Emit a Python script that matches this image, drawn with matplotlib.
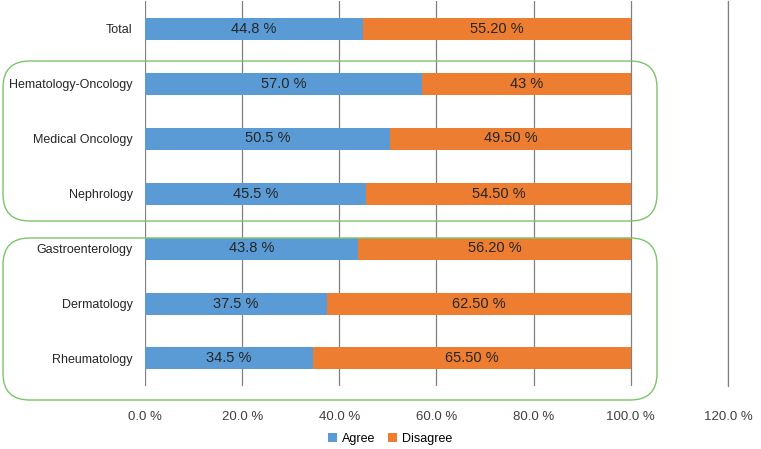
import matplotlib.pyplot as plt
from matplotlib.patches import FancyBboxPatch

plt.rcParams['font.family'] = ['Liberation Sans', 'DejaVu Sans']

categories = ["Total", "Hematology-Oncology", "Medical Oncology", "Nephrology",
              "Gastroenterology", "Dermatology", "Rheumatology"]
agree = [44.8, 57.0, 50.5, 45.5, 43.8, 37.5, 34.5]
disagree = [55.2, 43.0, 49.5, 54.5, 56.2, 62.5, 65.5]
agree_labels = ["44.8 %", "57.0 %", "50.5 %", "45.5 %", "43.8 %", "37.5 %", "34.5 %"]
disagree_labels = ["55.20 %", "43 %", "49.50 %", "54.50 %", "56.20 %", "62.50 %", "65.50 %"]
xticks = [0, 20, 40, 60, 80, 100, 120]
xtick_labels = ["0.0 %", "20.0 %", "40.0 %", "60.0 %", "80.0 %", "100.0 %", "120.0 %"]

c_agree = "#5b9bd5"
c_disagree = "#ed7d31"

fig = plt.figure(figsize=(7.61, 4.49), dpi=100)
ax = fig.add_axes([145 / 761, 1 - 386 / 449, (728 - 145) / 761, 385 / 449])

y = list(range(len(categories)))
ax.barh(y, agree, height=0.4, color=c_agree, label="Agree", zorder=3)
ax.barh(y, disagree, left=agree, height=0.4, color=c_disagree, label="Disagree", zorder=3)

for i in y:
    ax.text(agree[i] / 2, i, agree_labels[i], ha="center", va="center",
            fontsize=10.5, color="#262626", zorder=4)
    ax.text(agree[i] + disagree[i] / 2, i, disagree_labels[i], ha="center",
            va="center", fontsize=10.5, color="#262626", zorder=4)

ax.set_xlim(0, 120)
ax.set_ylim(len(categories) - 0.5, -0.5)
ax.set_yticks(y)
ax.set_yticklabels(categories, fontsize=9, color="#262626")
ax.set_xticks(xticks)
ax.set_xticklabels(xtick_labels, fontsize=9.5, color="#404040")
ax.tick_params(length=0)
ax.tick_params(axis="y", pad=9)
ax.tick_params(axis="x", pad=18)
ax.grid(axis="x", color="#808080", linewidth=0.9, zorder=0)
ax.set_axisbelow(True)
for s in ["top", "bottom", "left", "right"]:
    ax.spines[s].set_visible(False)
ax.axvline(120, color="#808080", linewidth=0.9, zorder=0, clip_on=False)

# green rounded group boxes
W, H = 761, 449
for (x0, y0, x1, y1) in [(3, 61, 657, 221), (3, 238, 657, 400)]:
    box = FancyBboxPatch((x0 / W, 1 - y1 / H), (x1 - x0) / W, (y1 - y0) / H,
                         boxstyle="round,pad=0,rounding_size=0.035",
                         transform=fig.transFigure, fill=False,
                         edgecolor="#7cc46a", linewidth=1.0, zorder=5,
                         mutation_aspect=W / H)
    fig.patches.append(box)

fig.legend(loc="center", bbox_to_anchor=(390 / W, 1 - 439 / H), ncol=2,
           frameon=False, fontsize=9, handlelength=0.7, handleheight=0.7,
           columnspacing=1.0, handletextpad=0.4)

fig.savefig("out.png", dpi=100)
